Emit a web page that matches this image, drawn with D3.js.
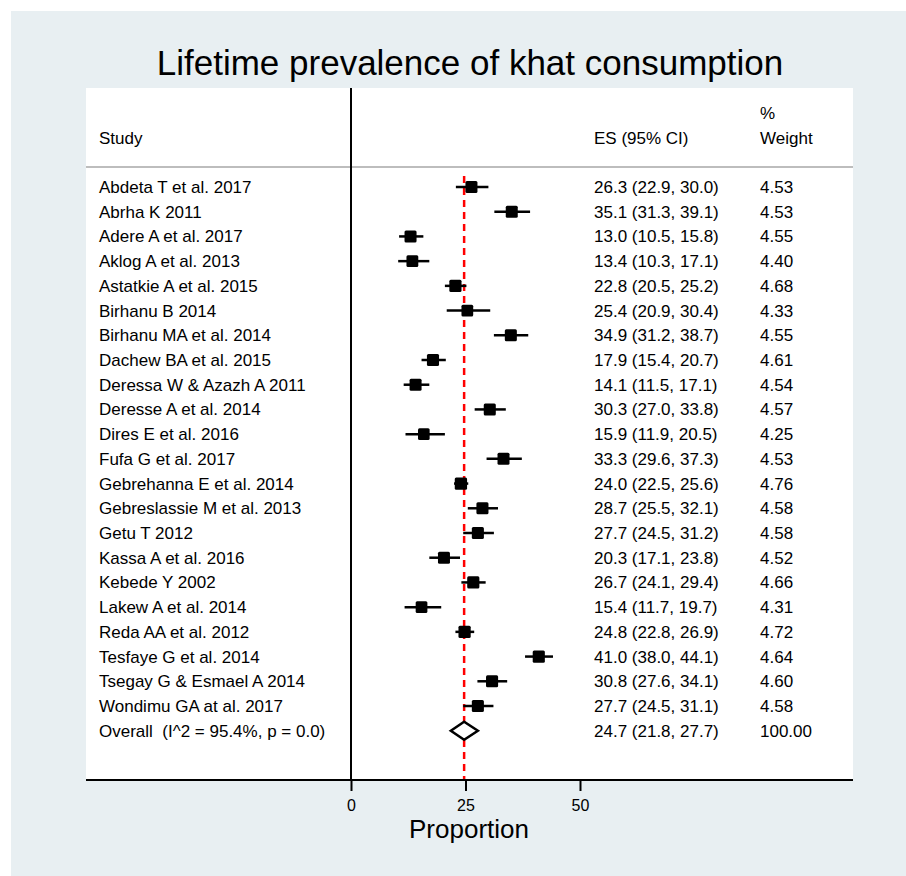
<!DOCTYPE html>
<html>
<head>
<meta charset="utf-8">
<script src="https://cdn.jsdelivr.net/npm/d3@7"></script>
<style>
    body { margin: 0; background: #ffffff; }
    svg text { font-family: "Liberation Sans", Arial, sans-serif; fill: #000; }
</style>
</head>
<body>
<svg id="chart" width="906" height="876"></svg>
<script>
    const studies = [
        "Abdeta T et al. 2017", "Abrha K 2011", "Adere A et al. 2017", "Aklog A et al. 2013",
        "Astatkie A et al. 2015", "Birhanu B 2014", "Birhanu MA et al. 2014", "Dachew BA et al. 2015",
        "Deressa W & Azazh A 2011", "Deresse A et al. 2014", "Dires E et al. 2016", "Fufa G et al. 2017",
        "Gebrehanna E et al. 2014", "Gebreslassie M et al. 2013", "Getu T 2012", "Kassa A et al. 2016",
        "Kebede Y 2002", "Lakew A et al. 2014", "Reda AA et al. 2012", "Tesfaye G et al. 2014",
        "Tsegay G & Esmael A 2014", "Wondimu GA at al. 2017"
    ];
    const es = [26.3, 35.1, 13.0, 13.4, 22.8, 25.4, 34.9, 17.9, 14.1, 30.3, 15.9, 33.3,
        24.0, 28.7, 27.7, 20.3, 26.7, 15.4, 24.8, 41.0, 30.8, 27.7];
    const lower = [22.9, 31.3, 10.5, 10.3, 20.5, 20.9, 31.2, 15.4, 11.5, 27.0, 11.9, 29.6,
        22.5, 25.5, 24.5, 17.1, 24.1, 11.7, 22.8, 38.0, 27.6, 24.5];
    const upper = [30.0, 39.1, 15.8, 17.1, 25.2, 30.4, 38.7, 20.7, 17.1, 33.8, 20.5, 37.3,
        25.6, 32.1, 31.2, 23.8, 29.4, 19.7, 26.9, 44.1, 34.1, 31.1];
    const weights = [4.53, 4.53, 4.55, 4.40, 4.68, 4.33, 4.55, 4.61, 4.54, 4.57, 4.25, 4.53,
        4.76, 4.58, 4.58, 4.52, 4.66, 4.31, 4.72, 4.64, 4.60, 4.58];
    const overall = {label: "Overall  (I^2 = 95.4%, p = 0.0)", es: 24.7, lo: 21.8, hi: 27.7, w: "100.00"};
    const xTicks = [0, 25, 50];

    const fmt = d3.format(".1f");
    const rows = studies.map((s, i) => ({name: s, es: es[i], lo: lower[i], hi: upper[i], w: weights[i]}));

    const svg = d3.select("#chart");
    const fs = "17px";

    // background panels
    svg.append("rect").attr("x", 11).attr("y", 11).attr("width", 895).attr("height", 865).attr("fill", "#e8eff2");
    svg.append("rect").attr("x", 86).attr("y", 88).attr("width", 767).attr("height", 692).attr("fill", "#ffffff");

    const x = d3.scaleLinear().domain([0, 50]).range([351, 580]);
    const y = d3.scaleLinear().domain([0, 21]).range([187, 706]);
    const boxSize = d3.scaleSqrt().domain([0, 4.53]).range([0, 12]);

    svg.append("text")
        .attr("x", 470).attr("y", 75)
        .attr("text-anchor", "middle")
        .style("font-size", "35px")
        .text("Lifetime prevalence of khat consumption");

    // headers
    svg.append("text").attr("x", 99).attr("y", 144).style("font-size", fs).text("Study");
    svg.append("text").attr("x", 594).attr("y", 144).style("font-size", fs).text("ES (95% CI)");
    svg.append("text").attr("x", 760).attr("y", 119).style("font-size", fs).text("%");
    svg.append("text").attr("x", 760).attr("y", 144).style("font-size", fs).text("Weight");

    svg.append("line")
        .attr("x1", 86).attr("x2", 853).attr("y1", 167).attr("y2", 167)
        .attr("stroke", "#bdbdbd").attr("stroke-width", 2);

    // null line
    svg.append("line")
        .attr("x1", x(0)).attr("x2", x(0)).attr("y1", 88).attr("y2", 780)
        .attr("stroke", "#000").attr("stroke-width", 2);

    // overall effect line
    svg.append("line")
        .attr("x1", x(overall.es)).attr("x2", x(overall.es)).attr("y1", 176).attr("y2", 780)
        .attr("stroke", "#ff0000").attr("stroke-width", 2.5)
        .attr("stroke-dasharray", "7,5");

    const g = svg.append("g").selectAll("g").data(rows).join("g");

    g.append("text")
        .attr("x", 99).attr("y", (d, i) => y(i) + 6)
        .style("font-size", fs)
        .text(d => d.name);

    g.append("line")
        .attr("x1", d => x(d.lo)).attr("x2", d => x(d.hi))
        .attr("y1", (d, i) => y(i)).attr("y2", (d, i) => y(i))
        .attr("stroke", "#000").attr("stroke-width", 2.5);

    g.append("rect")
        .attr("x", d => x(d.es) - boxSize(d.w) / 2)
        .attr("y", (d, i) => y(i) - boxSize(d.w) / 2)
        .attr("width", d => boxSize(d.w)).attr("height", d => boxSize(d.w))
        .attr("rx", 1.5)
        .attr("fill", "#000");

    g.append("text")
        .attr("x", 594).attr("y", (d, i) => y(i) + 6)
        .style("font-size", fs)
        .text(d => `${fmt(d.es)} (${fmt(d.lo)}, ${fmt(d.hi)})`);

    g.append("text")
        .attr("x", 760).attr("y", (d, i) => y(i) + 6)
        .style("font-size", fs)
        .text(d => d3.format(".2f")(d.w));

    // overall row
    const oy = y(studies.length);
    svg.append("text").attr("x", 99).attr("y", oy + 6).style("font-size", fs)
        .style("white-space", "pre").attr("xml:space", "preserve").text(overall.label);
    svg.append("path")
        .attr("d", `M${x(overall.lo)},${oy} L${x(overall.es)},${oy - 9} L${x(overall.hi)},${oy} L${x(overall.es)},${oy + 9} Z`)
        .attr("fill", "#fff").attr("stroke", "#000").attr("stroke-width", 2.5);
    svg.append("text").attr("x", 594).attr("y", oy + 6).style("font-size", fs)
        .text(`${fmt(overall.es)} (${fmt(overall.lo)}, ${fmt(overall.hi)})`);
    svg.append("text").attr("x", 760).attr("y", oy + 6).style("font-size", fs).text(overall.w);

    // x axis
    svg.append("line")
        .attr("x1", 86).attr("x2", 853).attr("y1", 780).attr("y2", 780)
        .attr("stroke", "#000").attr("stroke-width", 2);

    const axis = svg.append("g").attr("transform", "translate(0,780)")
        .call(d3.axisBottom(x).tickValues(xTicks).tickSize(11).tickPadding(9).tickFormat(d3.format("d")));
    axis.select(".domain").remove();
    axis.selectAll(".tick line").attr("stroke", "#000").attr("stroke-width", 2);
    axis.selectAll(".tick text").style("font-size", "16px").style("font-family", "Liberation Sans, Arial, sans-serif");

    svg.append("text")
        .attr("x", 469).attr("y", 838)
        .attr("text-anchor", "middle")
        .style("font-size", "26px")
        .text("Proportion");
</script>
</body>
</html>
